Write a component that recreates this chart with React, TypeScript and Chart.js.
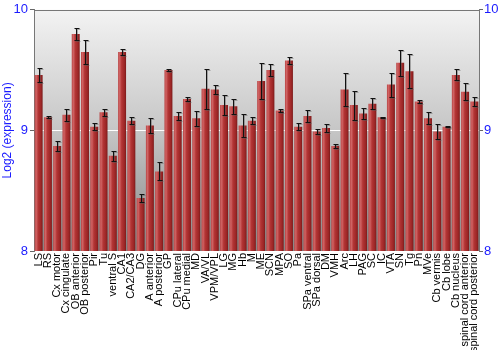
import React, { useEffect, useRef } from "react";
import { Chart, registerables } from "chart.js";

Chart.register(...registerables);

const categories = [
  "LS", "RS", "Cx motor", "Cx cingulate", "OB anterior", "OB posterior", "Pir", "Tu",
  "ventral S", "CA1", "CA2/CA3", "DG", "A anterior", "A posterior", "GP", "CPu lateral",
  "CPu medial", "MD", "VA/VL", "VPM/VPL", "LG", "MG", "Hb", "M", "ME", "SCN", "MPA", "SO",
  "Pa", "SPa ventral", "SPa dorsal", "DM", "VMH", "Arc", "LH", "PAG", "SC", "IC", "VTA",
  "SN", "Tg", "Pn", "MVe", "Cb vermis", "Cb lobe", "Cb nucleus", "spinal cord anterior",
  "spinal cord posterior",
];

const values = [
  9.46, 9.11, 8.87, 9.13, 9.8, 9.65, 9.03, 9.15,
  8.79, 9.65, 9.08, 8.44, 9.04, 8.66, 9.5, 9.12,
  9.26, 9.1, 9.345, 9.34, 9.21, 9.2, 9.04, 9.08, 9.41, 9.5, 9.165, 9.58,
  9.03, 9.12, 8.99, 9.02, 8.87, 9.34, 9.21, 9.14, 9.22, 9.11, 9.38,
  9.56, 9.49, 9.24, 9.1, 8.99, 9.03, 9.46, 9.32,
  9.24,
];

const errors = [
  0.06, 0.006, 0.04, 0.05, 0.05, 0.1, 0.03, 0.03,
  0.04, 0.025, 0.03, 0.03, 0.06, 0.075, 0.008, 0.03,
  0.013, 0.06, 0.165, 0.04, 0.08, 0.06, 0.095, 0.03, 0.15, 0.05, 0.01, 0.03,
  0.03, 0.05, 0.02, 0.03, 0.02, 0.14, 0.12, 0.045, 0.045, 0.005, 0.1,
  0.11, 0.14, 0.015, 0.05, 0.06, 0.005, 0.045, 0.07,
  0.04,
];

const yTicks = [8, 9, 10];

const FONT = "'Liberation Sans', Arial, sans-serif";

const backgroundPlugin = {
  id: "bgGradient",
  beforeDraw(chart: any) {
    const { ctx, chartArea } = chart;
    if (!chartArea) return;
    const g = ctx.createLinearGradient(0, chartArea.top, 0, chartArea.bottom);
    g.addColorStop(0, "#f3f3f3");
    g.addColorStop(0.5, "#c6c6c6");
    g.addColorStop(1, "#868686");
    ctx.save();
    ctx.fillStyle = g;
    ctx.fillRect(chartArea.left, chartArea.top, chartArea.right - chartArea.left, chartArea.bottom - chartArea.top);
    ctx.restore();
  },
};

const errorBarPlugin = {
  id: "errorBars",
  afterDatasetsDraw(chart: any) {
    const { ctx } = chart;
    const meta = chart.getDatasetMeta(0);
    const y = chart.scales.y;
    ctx.save();
    const drawAll = (dx: number, dy: number, color: string) => {
      ctx.strokeStyle = color;
      ctx.lineWidth = 1;
      meta.data.forEach((bar: any, i: number) => {
        const x = Math.round(bar.x) + 0.5 + dx;
        const top = Math.round(y.getPixelForValue(values[i] + errors[i])) + 0.5 + dy;
        const bot = Math.round(y.getPixelForValue(values[i] - errors[i])) + 0.5 + dy;
        ctx.beginPath();
        ctx.moveTo(x, top);
        ctx.lineTo(x, bot);
        ctx.moveTo(x - 2, top);
        ctx.lineTo(x + 3, top);
        ctx.moveTo(x - 2, bot);
        ctx.lineTo(x + 3, bot);
        ctx.stroke();
      });
    };
    drawAll(1, 1, "rgba(90,90,90,0.45)");
    drawAll(0, 0, "#111111");
    ctx.restore();
  },
};

export default function App() {
  const ref = useRef<HTMLCanvasElement | null>(null);

  useEffect(() => {
    document.body.style.margin = "0";
    const canvas = ref.current;
    if (!canvas) return;

    const barFill = (c: any) => {
      const chart = c.chart;
      const xs = chart.scales && chart.scales.x;
      if (!xs || !chart.chartArea) return "#b03030";
      const cx = xs.getPixelForValue(c.dataIndex);
      const hw = 4;
      const g = chart.ctx.createLinearGradient(cx - hw, 0, cx + hw, 0);
      g.addColorStop(0, "#b84444");
      g.addColorStop(0.2, "#d06464");
      g.addColorStop(0.45, "#b33535");
      g.addColorStop(0.8, "#9c2626");
      g.addColorStop(1, "#7a1a1a");
      return g;
    };

    const chart = new Chart(canvas, {
      type: "bar",
      data: {
        labels: categories,
        datasets: [
          {
            data: values.map((v) => [8, v]),
            backgroundColor: barFill,
            borderWidth: 0,
            barPercentage: 0.86,
            categoryPercentage: 1,
          } as any,
        ],
      },
      options: {
        animation: false,
        responsive: false,
        layout: { padding: { top: 9, left: 0, right: 0, bottom: 0 } },
        plugins: {
          legend: { display: false },
          tooltip: { enabled: false },
        },
        scales: {
          x: {
            offset: true,
            grid: { display: false, drawTicks: false },
            border: { display: false },
            ticks: {
              autoSkip: false,
              minRotation: 90,
              maxRotation: 90,
              padding: 2,
              color: "#000000",
              font: { family: FONT, size: 11 },
            },
            afterFit(scale: any) {
              scale.height = 99;
            },
          },
          y: {
            min: 8,
            max: 10,
            position: "left",
            afterBuildTicks(scale: any) {
              scale.ticks = yTicks.map((v) => ({ value: v }));
            },
            ticks: {
              color: "#1a1aff",
              font: { family: FONT, size: 13 },
              padding: 2,
              callback: (v: any) => String(v),
            },
            grid: {
              drawOnChartArea: true,
              color: (c: any) => (c.tick && c.tick.value === 9 ? "#ffffff" : "rgba(0,0,0,0)"),
              tickColor: "#666666",
              tickLength: 4,
              lineWidth: 1,
            },
            border: { display: true, color: "#777777", width: 1 },
            title: {
              display: true,
              text: "Log2 (expression)",
              color: "#1a1aff",
              font: { family: FONT, size: 12 },
              padding: 0,
            },
            afterFit(scale: any) {
              scale.width = 34;
            },
          },
          y2: {
            min: 8,
            max: 10,
            position: "right",
            afterBuildTicks(scale: any) {
              scale.ticks = yTicks.map((v) => ({ value: v }));
            },
            ticks: {
              color: "#1a1aff",
              font: { family: FONT, size: 13 },
              padding: 1,
              callback: (v: any) => String(v),
            },
            grid: {
              drawOnChartArea: false,
              tickColor: "#666666",
              tickLength: 4,
            },
            border: { display: true, color: "#777777", width: 1 },
            afterFit(scale: any) {
              scale.width = 21;
            },
          },
        },
      },
      plugins: [
        backgroundPlugin,
        errorBarPlugin,
        {
          id: "topBorder",
          afterDraw(ch: any) {
            const { ctx, chartArea } = ch;
            ctx.save();
            ctx.strokeStyle = "#777777";
            ctx.lineWidth = 1;
            ctx.beginPath();
            const t = Math.round(chartArea.top) + 0.5;
            ctx.moveTo(chartArea.left, t);
            ctx.lineTo(chartArea.right, t);
            ctx.stroke();
            ctx.restore();
          },
        },
      ],
    });

    return () => chart.destroy();
  }, []);

  return (
    <div style={{ position: "fixed", left: 0, top: 0, width: 500, height: 350, background: "#ffffff" }}>
      <canvas ref={ref} width={500} height={350} style={{ width: 500, height: 350 }} />
    </div>
  );
}
